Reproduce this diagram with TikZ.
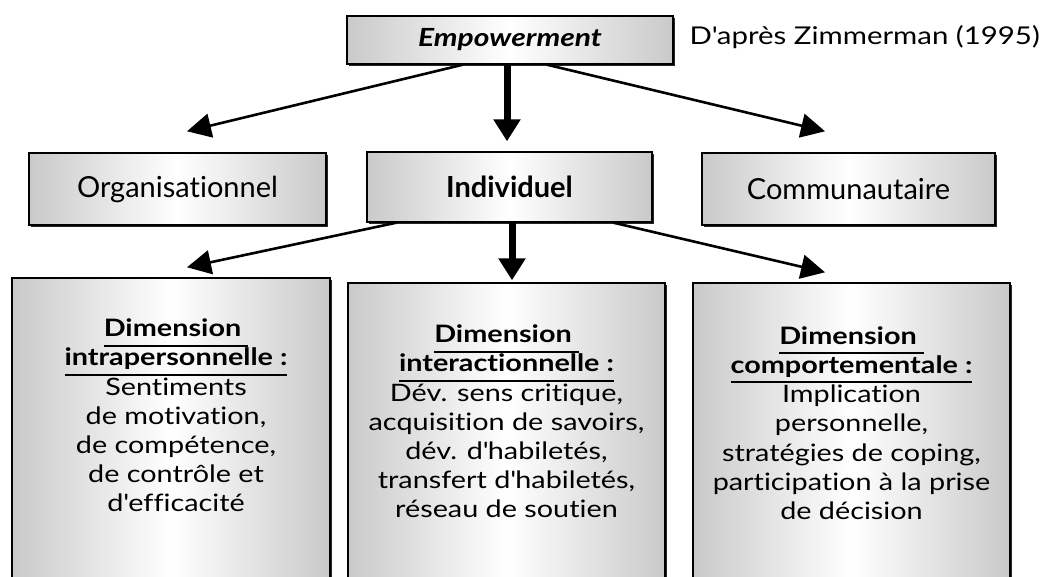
\documentclass[tikz,border=0pt]{standalone}
\usepackage{fontspec}
\setmainfont{Lato}[Ligatures=NoCommon]
\newfontfamily\widefont{Lato}[FakeStretch=1.2, Ligatures=NoCommon]
\usetikzlibrary{arrows.meta,calc,shadows}
\newsavebox\ulsave
\newcommand\ulx[1]{\leavevmode\sbox\ulsave{#1}\rlap{\rule[-9.8pt]{\wd\ulsave}{1.8pt}}\usebox\ulsave}
\tikzset{
  box/.style={draw=black, line width=1.4pt, left color=gray!42, right color=gray!42, middle color=white,
    inner sep=0pt, drop shadow={shadow xshift=1.6pt, shadow yshift=-1.6pt, opacity=1, fill=black!85}},
  midtxt/.style={font=\fontsize{29}{33}\selectfont},
  bodytxt/.style={align=center, inner sep=0pt, anchor=north, font=\widefont\fontsize{24}{29.2}\selectfont},
  thinarr/.style={line width=2.6pt, -{Triangle[length=24pt,width=24pt]}},
  thickarr/.style={line width=7pt, -{Triangle[length=22pt,width=26pt]}},
}
\begin{document}
\begin{tikzpicture}[x=1pt,y=-1pt]
\clip (0,0) rectangle (1044,577);
\fill[white] (0,0) rectangle (1044,577);
% top
\node[box, minimum width=326pt, minimum height=48pt, font=\widefont\fontsize{25}{30}\selectfont\bfseries\itshape] (emp) at (510,40) {Empowerment};
\node[font=\widefont\fontsize{24.5}{30}\selectfont, anchor=east, inner sep=0pt] (src) at (1040,37) {D\textquotesingle après Zimmerman (1995)};
% middle row
\node[box, midtxt, minimum width=297pt, minimum height=72pt] (org) at (177.5,189) {Organisationnel};
\node[box, font=\fontsize{29}{33}\selectfont\bfseries, minimum width=285pt, minimum height=70pt] (ind) at (509.5,187) {Individuel};
\node[box, midtxt, minimum width=293pt, minimum height=72pt] (com) at (848.5,189) {Communautaire};
% bottom row
\node[box, minimum width=318pt, minimum height=320pt] (d1) at (171,438) {};
\node[box, minimum width=317pt, minimum height=316pt] (d2) at (506.5,441) {};
\node[box, minimum width=317pt, minimum height=316pt] (d3) at (851.5,441) {};
\node[bodytxt] (t1) at ($(d1.north)+(5,41.5)$) {\bfseries\ulx{Dimension\ }\\\bfseries\ulx{intrapersonnelle :}\\Sentiments\\de motivation,\\de compétence,\\de contrôle et\\d\textquotesingle efficacité};
\node[bodytxt] (t2) at ($(d2.north)+(0,42.5)$) {\bfseries\ulx{Dimension\ }\\\bfseries\ulx{interactionnelle :}\\Dév. sens critique,\\acquisition de savoirs,\\dév. d\textquotesingle habiletés,\\transfert d\textquotesingle habiletés,\\réseau de soutien};
\node[bodytxt] (t3) at ($(d3.north)+(0,44)$) {\bfseries\ulx{Dimension\ }\\\bfseries\ulx{comportementale :}\\Implication\\personnelle,\\stratégies de coping,\\participation à la prise\\de décision};
% arrows from top
\coordinate (e1) at ($(emp.south west)!0.356!(emp.south east)$);
\coordinate (e2) at ($(emp.south)+(-3,0)$);
\coordinate (e3) at ($(emp.south west)!0.613!(emp.south east)$);
\coordinate (o1) at ($(org.north)+(9.5,-21)$);
\coordinate (i1) at ($(ind.north)+(0,-10)$);
\coordinate (c1) at ($(com.north)+(-23.5,-21)$);
\draw[thinarr] (e1) -- (o1);
\draw[thickarr] (e2) -- (e2 |- i1);
\draw[thinarr] (e3) -- (c1);
% arrows from Individuel
\coordinate (s1) at ($(ind.south west)!0.105!(ind.south east)$);
\coordinate (s2) at ($(ind.south)+(2.5,0)$);
\coordinate (s3) at ($(ind.south west)!0.863!(ind.south east)$);
\coordinate (p1) at ($(d1.north)+(16,-10)$);
\coordinate (p2) at ($(d2.north)+(0,-2)$);
\coordinate (p3) at ($(d3.north)+(-26.5,-10)$);
\draw[thinarr] (s1) -- (p1);
\draw[thickarr] (s2) -- (s2 |- p2);
\draw[thinarr] (s3) -- (p3);
\end{tikzpicture}
\end{document}
